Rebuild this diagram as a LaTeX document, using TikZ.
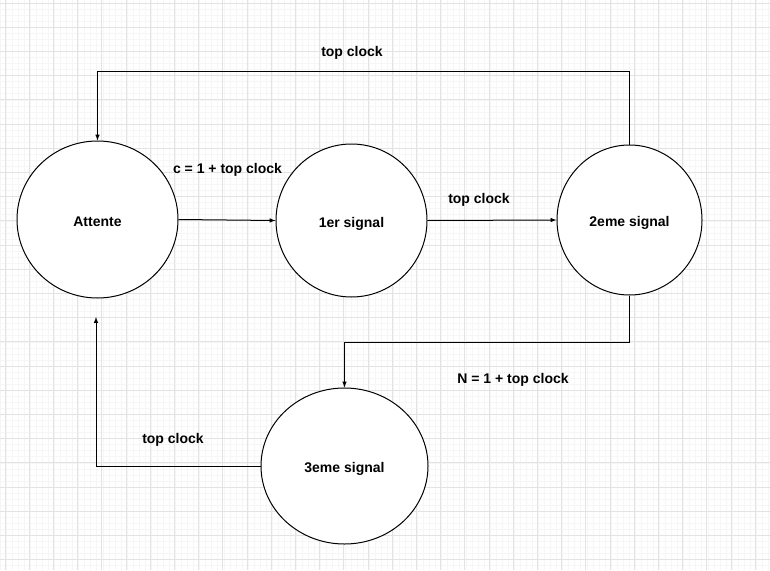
\documentclass[tikz,border=0pt]{standalone}
\usepackage{fontspec}
\setmainfont{Liberation Sans}
\usepackage{tikz}
\usetikzlibrary{shapes.geometric}
\tikzset{>=latex}
\tikzset{etat/.style={draw, ellipse, fill=white, inner sep=0pt, text height=13pt, text depth=0pt, font=\bfseries\fontsize{14}{16}\selectfont},
         lbl/.style={text height=12pt, text depth=0pt, font=\bfseries\fontsize{14}{16}\selectfont}}

\begin{document}
\begin{tikzpicture}[x=1pt, y=-1pt, line width=1pt]
      \useasboundingbox (0,0) rectangle (770,570);
      \fill[white] (0,0) rectangle (770,570);
      % grille
      \foreach \i in {0,...,128} {
        \draw[gray!7, line width=0.6pt] (\i*6.05-0.05,0) -- (\i*6.05-0.05,570);
      }
      \foreach \j in {0,...,95} {
        \draw[gray!7, line width=0.6pt] (0,\j*6.05+3) -- (770,\j*6.05+3);
      }
      \foreach \i in {0,...,32} {
        \draw[gray!22, line width=0.8pt] (\i*24.2+5,0) -- (\i*24.2+5,570);
      }
      \foreach \j in {0,...,24} {
        \draw[gray!22, line width=0.8pt] (0,\j*24.2+3) -- (770,\j*24.2+3);
      }
	  % etats
	  \node (att) at (97.5,219.5) [etat, minimum width=161pt, minimum height=157pt] {Attente};
	  \node (e1) at (351.5,220.5) [etat, minimum width=151pt, minimum height=153pt] {1er signal};
	  \node (e2) at (629.5,220) [etat, minimum width=145pt, minimum height=150pt] {2eme signal};
	  \node (e3) at (344.5,466) [etat, minimum width=167pt, minimum height=156pt] {3eme signal};
	  % transitions
	  \coordinate (haut) at (97.5,71);
	  \coordinate (bas) at (629.5,342);
	  \coordinate (retour) at (96,317);
	  \draw[->] (e2.north) |- (haut) -- (att.north);
	  \draw[->] (att.east) -- (e1.west);
	  \draw[->] (e1.east) -- (e2.west);
	  \draw[->] (e2.south) -- (bas) -| (e3.north);
	  \draw[->] (e3.west) -| (retour);
	  % etiquettes
	  \node (l1) at (352,50) [lbl] {top clock};
	  \node (l2) at (227.5,167) [lbl] {c = 1 + top clock};
	  \node (l3) at (479,197) [lbl] {top clock};
	  \node (l4) at (513,377) [lbl] {N = 1 + top clock};
	  \node (l5) at (173,437) [lbl] {top clock};
    \end{tikzpicture}
\end{document}
